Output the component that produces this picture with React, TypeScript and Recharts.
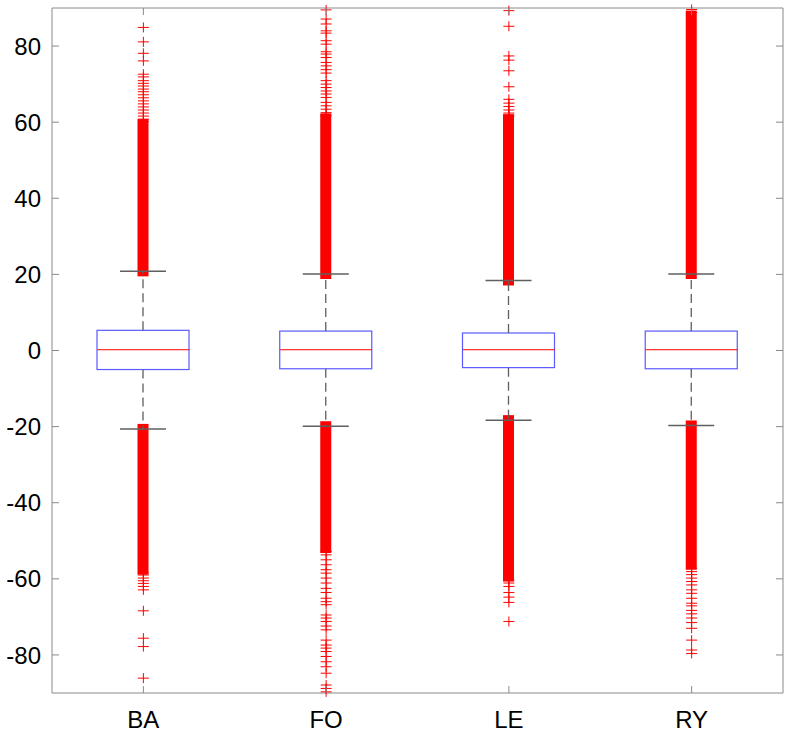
import React from 'react'
import { ComposedChart, Bar, Scatter, XAxis, YAxis, CartesianGrid } from 'recharts'

const CATEGORIES = ['BA', 'FO', 'LE', 'RY']
const Q1 = [-5.0, -4.8, -4.5, -4.8]
const MEDIAN = [0.2, 0.2, 0.2, 0.2]
const Q3 = [5.3, 5.1, 4.6, 5.1]
const WHISKER_LO = [-20.6, -19.9, -18.3, -19.7]
const WHISKER_HI = [20.8, 20.1, 18.4, 20.1]
// outliers packed so tight they print as a solid column
const DENSE_HI = [59.5, 61.0, 60.8, 88.0]
const DENSE_LO = [-57.6, -51.9, -59.4, -56.3]

// the sparse outliers beyond the solid columns
const OUTLIERS_BA = [
  84.9, 81.1, 78.1, 76.1, 72.6, 71.9, 70.9, 70.2, 69.5, 68.7, 68.0, 67.2, 66.4, 65.6, 64.8, 64.0,
  63.2, 62.4, 61.6, 60.8, 60.2, -58.3, -59.0, -59.8, -60.5, -61.2, -62.0, -62.9, -68.4, -75.6,
  -77.8, -86.1,
]
const OUTLIERS_FO = [
  89.5, 87.1, 85.8, 84.0, 83.4, 81.4, 80.5, 78.5, 77.9, 77.0, 75.7, 74.8, 73.8, 72.9, 70.9, 70.0,
  69.1, 68.2, 67.4, 66.5, 65.2, 64.3, 63.4, 62.5, 61.7, -52.8, -53.7, -55.0, -56.3, -57.6, -58.5,
  -59.8, -61.1, -62.5, -63.6, -65.1, -66.0, -66.8, -69.5, -70.3, -71.2, -72.4, -73.4, -76.1,
  -77.4, -78.2, -79.1, -80.4, -81.8, -83.1, -84.8, -87.9, -88.8, -89.7,
]
const OUTLIERS_LE = [
  89.3, 85.2, 77.4, 76.3, 73.5, 69.3, 66.0, 65.0, 64.1, 63.2, 62.4, 61.6, -60.3, -61.1, -62.0,
  -63.6, -64.8, -66.2, -71.2,
]
const OUTLIERS_RY = [
  88.8, 89.6, -57.2, -58.1, -58.9, -59.8, -60.7, -61.6, -62.9, -63.8, -65.1, -66.4, -67.1, -68.3,
  -69.2, -70.3, -71.5, -73.0, -76.1, -78.7, -79.6,
]
const Y_TICKS = [-80, -60, -40, -20, 0, 20, 40, 60, 80]

const W = 788
const H = 733
const MARGIN = { top: 8, right: 5, bottom: 0, left: 0 }
const PLOT_TOP = MARGIN.top
const PLOT_RIGHT = W - MARGIN.right
const BOX_W = 92
const TICK = 7
const FONT = '"Liberation Sans", Arial, Helvetica, sans-serif'
const RED = '#ff0000'
const BLUE = '#5a5aff'
const GREY = '#5f5f5f'
const FRAME = '#8a8a8a'

const rows = CATEGORIES.map((name, i) => ({
  name,
  box: [Q1[i], Q3[i]],
  upper: [Q3[i], WHISKER_HI[i]],
  lower: [WHISKER_LO[i], Q1[i]],
  denseHi: [WHISKER_HI[i], DENSE_HI[i]],
  denseLo: [DENSE_LO[i], WHISKER_LO[i]],
  median: MEDIAN[i],
}))

const outliers = [
  ...OUTLIERS_BA.map((value) => ({ name: 'BA', value })),
  ...OUTLIERS_FO.map((value) => ({ name: 'FO', value })),
  ...OUTLIERS_LE.map((value) => ({ name: 'LE', value })),
  ...OUTLIERS_RY.map((value) => ({ name: 'RY', value })),
]

const norm = (p: any) => {
  const top = Math.min(p.y, p.y + p.height)
  const h = Math.abs(p.height)
  return { cx: p.x + p.width / 2, top, bottom: top + h, h }
}

const BoxShape = (p: any) => {
  const { top, h } = norm(p)
  return <rect x={p.x} y={top} width={p.width} height={h} fill="none" stroke={BLUE} strokeWidth={1.2} />
}

const UpperWhisker = (p: any) => {
  const { cx, top, bottom } = norm(p)
  return (
    <g>
      <line x1={cx} x2={cx} y1={bottom} y2={top} stroke={GREY} strokeWidth={1.3} strokeDasharray="9 5" />
      <line x1={cx - BOX_W / 4} x2={cx + BOX_W / 4} y1={top} y2={top} stroke={GREY} strokeWidth={1.5} />
    </g>
  )
}

const LowerWhisker = (p: any) => {
  const { cx, top, bottom } = norm(p)
  return (
    <g>
      <line x1={cx} x2={cx} y1={top} y2={bottom} stroke={GREY} strokeWidth={1.3} strokeDasharray="9 5" />
      <line x1={cx - BOX_W / 4} x2={cx + BOX_W / 4} y1={bottom} y2={bottom} stroke={GREY} strokeWidth={1.5} />
    </g>
  )
}

const DenseShape = (p: any) => {
  const { cx, top, h } = norm(p)
  return <rect x={cx - 5.5} y={top - 5} width={11} height={h + 10} fill={RED} />
}

const Plus = ({ cx, cy }: any) => (
  <path d={`M${cx - 5.5},${cy}H${cx + 5.5}M${cx},${cy - 5}V${cy + 5}`} stroke={RED} strokeWidth={1} fill="none" />
)

const MedianLine = ({ cx, cy }: any) => (
  <line x1={cx - BOX_W / 2} x2={cx + BOX_W / 2} y1={cy} y2={cy} stroke={RED} strokeWidth={1} />
)

const YTick = ({ x, y, payload }: any) => (
  <g>
    <line x1={x} x2={x + TICK} y1={y} y2={y} stroke={FRAME} />
    <line x1={PLOT_RIGHT - TICK} x2={PLOT_RIGHT} y1={y} y2={y} stroke={FRAME} />
    <text x={x - 11} y={y} dy="0.36em" textAnchor="end" fontSize={24} fontFamily={FONT} fill="#000">
      {payload.value}
    </text>
  </g>
)

const XTick = ({ x, y, payload }: any) => (
  <g>
    <line x1={x} x2={x} y1={y} y2={y - TICK} stroke={FRAME} />
    <line x1={x} x2={x} y1={PLOT_TOP} y2={PLOT_TOP + TICK} stroke={FRAME} />
    <text x={x} y={y + 35} textAnchor="middle" fontSize={24} fontFamily={FONT} fill="#000">
      {payload.value}
    </text>
  </g>
)

export default function App() {
  return (
    <div style={{ position: 'absolute', left: 0, top: 0, background: '#fff' }}>
      <ComposedChart width={W} height={H} data={rows} margin={MARGIN} barGap={-BOX_W}>
        <CartesianGrid
          stroke={FRAME}
          horizontalCoordinatesGenerator={({ offset }: any) => [offset.top, offset.top + offset.height]}
          verticalCoordinatesGenerator={({ offset }: any) => [offset.left, offset.left + offset.width]}
        />
        <XAxis
          dataKey="name"
          type="category"
          allowDuplicatedCategory={false}
          height={40}
          axisLine={false}
          tickLine={false}
          tickSize={0}
          tickMargin={0}
          tick={<XTick />}
          interval={0}
        />
        <YAxis
          type="number"
          domain={[-90, 90]}
          ticks={Y_TICKS}
          width={52}
          axisLine={false}
          tickLine={false}
          tickSize={0}
          tickMargin={0}
          tick={<YTick />}
          interval={0}
        />
        <Bar dataKey="denseHi" barSize={BOX_W} shape={<DenseShape />} isAnimationActive={false} />
        <Bar dataKey="denseLo" barSize={BOX_W} shape={<DenseShape />} isAnimationActive={false} />
        <Scatter data={outliers} dataKey="value" shape={<Plus />} isAnimationActive={false} />
        <Bar dataKey="box" barSize={BOX_W} shape={<BoxShape />} isAnimationActive={false} />
        <Scatter data={rows} dataKey="median" shape={<MedianLine />} isAnimationActive={false} />
        <Bar dataKey="upper" barSize={BOX_W} shape={<UpperWhisker />} isAnimationActive={false} />
        <Bar dataKey="lower" barSize={BOX_W} shape={<LowerWhisker />} isAnimationActive={false} />
      </ComposedChart>
    </div>
  )
}
